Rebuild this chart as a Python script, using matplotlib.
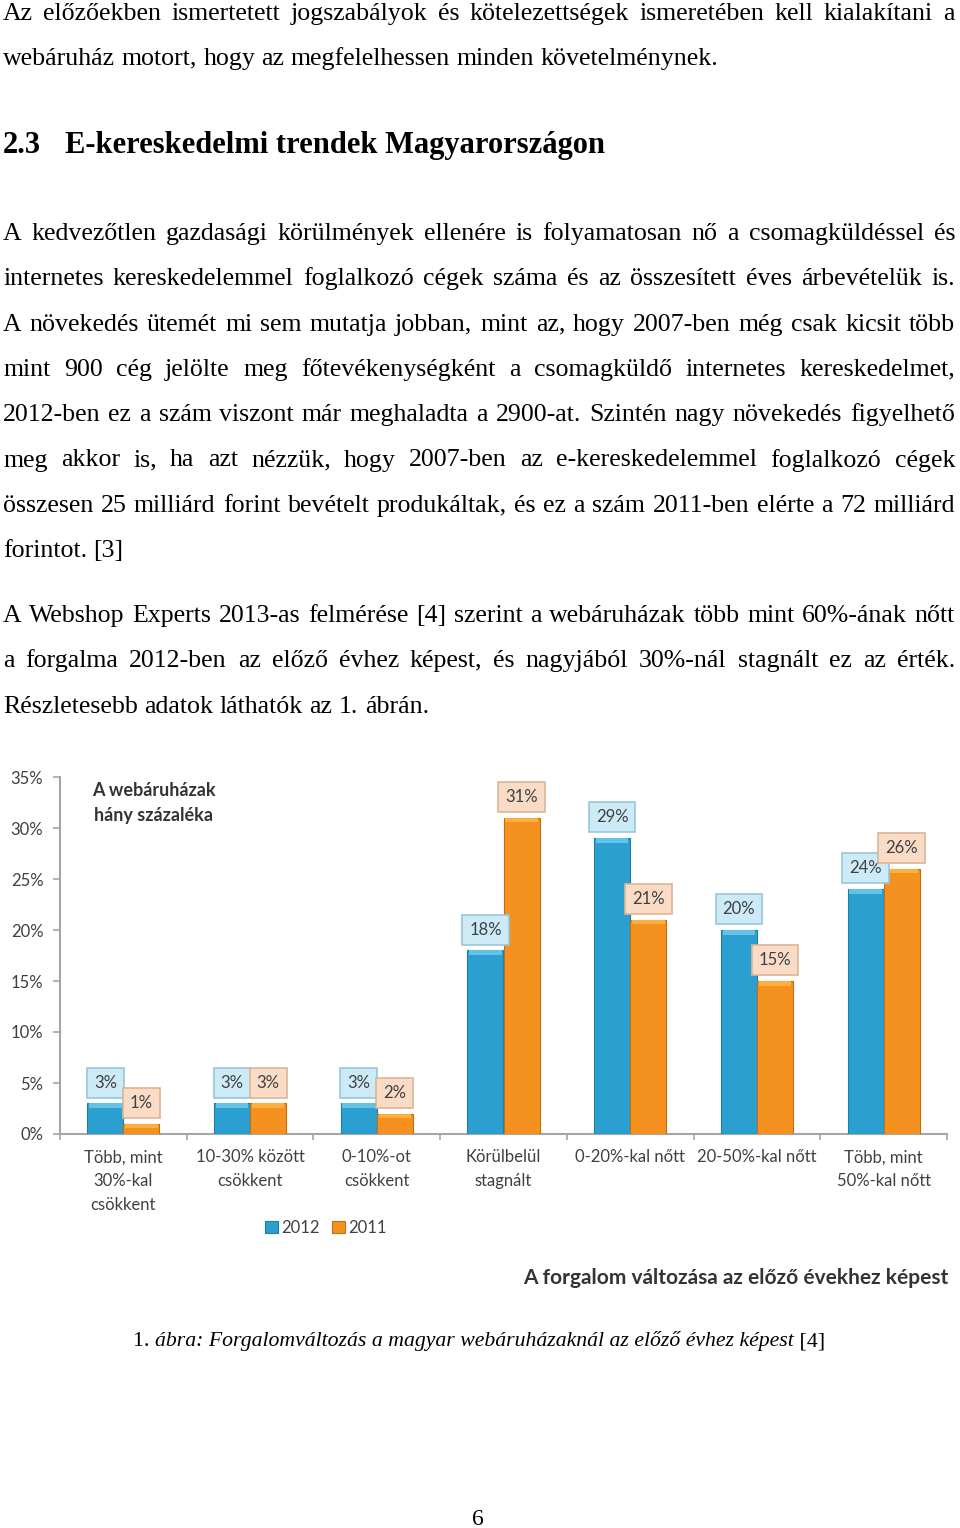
import numpy as np
import matplotlib
matplotlib.use("Agg")
import matplotlib.pyplot as plt

W, H = 960, 1528

# chart data
categories = ["Több, mint\n30%-kal\ncsökkent", "10-30% között\ncsökkent", "0-10%-ot\ncsökkent",
              "Körülbelül\nstagnált", "0-20%-kal nőtt", "20-50%-kal nőtt", "Több, mint\n50%-kal nőtt"]
share_2012 = [3, 3, 3, 18, 29, 20, 24]
share_2011 = [1, 3, 2, 31, 21, 15, 26]
yticks = [0, 5, 10, 15, 20, 25, 30, 35]
series_names = ["2012", "2011"]

# page text
intro_lines = ["Az előzőekben ismertetett jogszabályok és kötelezettségek ismeretében kell kialakítani a",
               "webáruház motort, hogy az megfelelhessen minden követelménynek."]
heading_num = "2.3"
heading_text = "E-kereskedelmi trendek Magyarországon"
para2_lines = ["A kedvezőtlen gazdasági körülmények ellenére is folyamatosan nő a csomagküldéssel és",
               "internetes kereskedelemmel foglalkozó cégek száma és az összesített éves árbevételük is.",
               "A növekedés ütemét mi sem mutatja jobban, mint az, hogy 2007-ben még csak kicsit több",
               "mint 900 cég jelölte meg főtevékenységként a csomagküldő internetes kereskedelmet,",
               "2012-ben ez a szám viszont már meghaladta a 2900-at. Szintén nagy növekedés figyelhető",
               "meg akkor is, ha azt nézzük, hogy 2007-ben az e-kereskedelemmel foglalkozó cégek",
               "összesen 25 milliárd forint bevételt produkáltak, és ez a szám 2011-ben elérte a 72 milliárd",
               "forintot. [3]"]
para3_lines = ["A Webshop Experts 2013-as felmérése [4] szerint a webáruházak több mint 60%-ának nőtt",
               "a forgalma 2012-ben az előző évhez képest, és nagyjából 30%-nál stagnált ez az érték.",
               "Részletesebb adatok láthatók az 1. ábrán."]
caption_parts = [("1. ", "normal"),
                 ("ábra: Forgalomváltozás a magyar webáruházaknál az előző évhez képest", "italic"),
                 (" [4]", "normal")]

fig = plt.figure(figsize=(W / 100, H / 100), dpi=100)
renderer = fig.canvas.get_renderer()
serif = "Liberation Serif"
body_size = 18.6


def put_line(text, y, size, justify, x0=3, x1=955, **kw):
    words = text.split(" ")
    objs = [fig.text(0, 1 - y / H, w, fontsize=size, family=serif, va="baseline", ha="left", **kw)
            for w in words]
    widths = [o.get_window_extent(renderer).width for o in objs]
    gap = size * 100 / 72 * 0.25
    if justify and len(words) > 1:
        gap = (x1 - x0 - sum(widths)) / (len(words) - 1)
    x = x0
    for o, w in zip(objs, widths):
        o.set_x(x / W)
        x += w + gap


def put_paragraph(lines, y0, step=45.3):
    for i, line in enumerate(lines):
        put_line(line, y0 + i * step, body_size, justify=(i < len(lines) - 1))


put_paragraph(intro_lines, 20, step=45)
fig.text(3 / W, 1 - 153 / H, heading_num, fontsize=22, family=serif, weight="bold", va="baseline")
fig.text(65 / W, 1 - 153 / H, heading_text, fontsize=22, family=serif, weight="bold", va="baseline")
put_paragraph(para2_lines, 240)
put_paragraph(para3_lines, 622)

# caption, centred as a whole
objs = [fig.text(0, 1 - 1346 / H, t, fontsize=15.7, family=serif, style=s, va="baseline")
        for t, s in caption_parts]
widths = [o.get_window_extent(renderer).width for o in objs]
x = 479 - sum(widths) / 2
for o, w in zip(objs, widths):
    o.set_x(x / W)
    x += w
fig.text(478 / W, 1 - 1525 / H, "6", fontsize=17, family=serif, ha="center", va="baseline")

# chart
sans = "Lato"
grey = "#a6a6a6"
txt = "#404040"
ax = fig.add_axes([60 / W, (H - 1134) / H, 887 / W, 357 / H])
ax.set_facecolor("none")
x = np.arange(len(categories))
bw = 0.285
b1 = ax.bar(x - bw / 2, share_2012, bw, color="#2b9fcf", edgecolor="#1e7fa6", lw=0.8, zorder=3,
            label=series_names[0])
b2 = ax.bar(x + bw / 2, share_2011, bw, color="#f5921f", edgecolor="#c66d12", lw=0.8, zorder=3,
            label=series_names[1])
# lighter cap at the top of every bar
ax.bar(x - bw / 2, 0.45, bw * 0.9, bottom=np.array(share_2012) - 0.45, color="#62c3e6", lw=0, zorder=4)
ax.bar(x + bw / 2, 0.45, bw * 0.9, bottom=np.array(share_2011) - 0.45, color="#fbb040", lw=0, zorder=4)

for bars, vals, fc, ec in [(b1, share_2012, "#cdebf7", "#98c6da"), (b2, share_2011, "#fadcc6", "#dcb596")]:
    for r, v in zip(bars, vals):
        ax.annotate(f"{v}%", (r.get_x() + r.get_width() / 2, v), xytext=(0, 15),
                    textcoords="offset points", ha="center", va="center", fontsize=12,
                    family=sans, color=txt, zorder=5,
                    bbox=dict(boxstyle="square,pad=0.42", fc=fc, ec=ec, lw=1.2))

ax.set_xlim(-0.5, len(categories) - 0.5)
ax.set_ylim(0, 35)
ax.set_yticks(yticks)
ax.set_yticklabels([f"{v}%" for v in yticks], fontsize=12, family=sans, color=txt)
ax.set_xticks(x)
ax.set_xticklabels(categories, fontsize=12, family=sans, color=txt, linespacing=1.6)
ax.set_xticks(np.arange(-0.5, len(categories)), minor=True)
ax.tick_params(axis="x", which="major", length=0, pad=11)
ax.tick_params(axis="x", which="minor", length=4.5, color=grey, width=1.2)
ax.tick_params(axis="y", length=5, color=grey, width=1.2, pad=7)
for s in ["top", "right"]:
    ax.spines[s].set_visible(False)
for s in ["left", "bottom"]:
    ax.spines[s].set_color(grey)
    ax.spines[s].set_linewidth(1.5)

ax.text((154 - 60) / 887, (1134 - 803) / 357, "A webáruházak\nhány százaléka", transform=ax.transAxes,
        ha="center", va="center", fontsize=13, weight="bold", family=sans, color="#333333",
        linespacing=1.55)
fig.text(948 / W, 1 - 1278 / H, "A forgalom változása az előző évekhez képest", ha="right", va="center",
         fontsize=15, weight="bold", family=sans, color="#333333")
fig.legend(handles=[b1, b2], loc="center", bbox_to_anchor=(326 / W, 1 - 1228 / H), ncol=2,
           frameon=False, prop={"family": sans, "size": 12}, handlelength=0.75,
           handleheight=0.75, handletextpad=0.2, columnspacing=0.75, labelcolor=txt)

fig.savefig("out.png", dpi=100, facecolor="white")
